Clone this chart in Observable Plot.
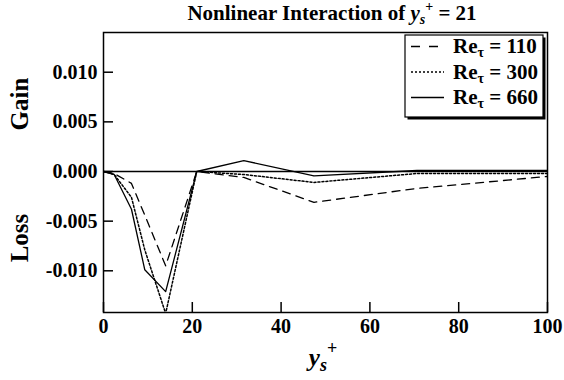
<!DOCTYPE html>
<html>
<head>
<meta charset="utf-8">
<script src="https://cdn.jsdelivr.net/npm/d3@7"></script>
<script src="https://cdn.jsdelivr.net/npm/@observablehq/plot@0.6"></script>
<style>
  body { margin: 0; background: #fff; }
  #chart svg { display: block; }
</style>
</head>
<body>
<div id="chart"></div>
<script>
// Wall-normal positions y+ at which the interaction is sampled
const yPlus = [0, 2.4, 6.3, 9.3, 14, 21, 31.6, 47.4, 70.6, 100];

// Net gain (+) / loss (-) for each friction Reynolds number
const gain110 = [0, -0.0002, -0.0012, -0.0044, -0.0095, 0, -0.0006, -0.0031, -0.0017, -0.0005];
const gain300 = [0, -0.0003, -0.0026, -0.0079, -0.0143, 0, -0.0003, -0.0011, -0.0002, -0.0002];
const gain660 = [0, -0.0003, -0.0038, -0.0099, -0.0121, 0, 0.0011, -0.00045, 0.0001, 0.0001];

const reTau = ["110", "300", "660"];
const dashes = ["8,6", "2,2", null];
const widths = [1.3, 1.5, 1.3];

const xTicks = [0, 20, 40, 60, 80, 100];
const yTicks = [-0.010, -0.005, 0, 0.005, 0.010];

const seriesValues = [gain110, gain300, gain660];
const rows = seriesValues.flatMap((vals, i) =>
  vals.map((v, j) => ({re: reTau[i], y: yPlus[j], g: v}))
);

const font = "'Liberation Serif', 'Times New Roman', Times, serif";
const W = 564, H = 380;
const mL = 103, mR = 17, mT = 32, mB = 68;

const lines = reTau.map((re, i) =>
  Plot.line(rows.filter(d => d.re === re), {
    x: "y", y: "g",
    stroke: "black", strokeWidth: widths[i],
    strokeDasharray: dashes[i],
    clip: true
  })
);

const chart = Plot.plot({
  width: W, height: H,
  marginLeft: mL, marginRight: mR, marginTop: mT, marginBottom: mB,
  style: {fontFamily: font, fontSize: "20px", fontWeight: "bold", color: "black", background: "white"},
  x: {domain: [0, 100], label: null},
  y: {domain: [-0.0142, 0.014], label: null},
  marks: [
    Plot.ruleY([0], {stroke: "black", strokeWidth: 1.5}),
    ...lines,
    Plot.tickX(xTicks, {x: d => d, insetTop: H - mT - mB - 10, stroke: "black", strokeWidth: 1.5}),
    Plot.tickY(yTicks, {y: d => d, insetRight: W - mL - mR - 10, stroke: "black", strokeWidth: 1.5}),
    Plot.axisX(xTicks, {tickSize: 0, tickPadding: 6, label: null, tickFormat: d => String(d)}),
    Plot.axisY(yTicks, {tickSize: 0, tickPadding: 6, label: null, tickFormat: d => d.toFixed(3)}),
    Plot.frame({stroke: "black", strokeWidth: 1.5})
  ]
});

document.getElementById("chart").append(chart);

const svg = d3.select(chart);
const txt = (x, y, size, anchor) => svg.append("text")
  .attr("x", x).attr("y", y)
  .attr("font-family", font).attr("font-weight", "bold")
  .attr("font-size", size).attr("text-anchor", anchor || "start")
  .attr("fill", "black");

// Title
const title = txt(332, 20, 21, "middle");
title.append("tspan").text("Nonlinear Interaction of ");
title.append("tspan").attr("font-style", "italic").text("y");
title.append("tspan").attr("font-style", "italic").attr("font-size", 14).attr("dy", 4).text("s");
title.append("tspan").attr("font-size", 14).attr("dy", -13).text("+");
title.append("tspan").attr("dy", 9).text(" = 21");

// x-axis label
const xl = txt(323, 366, 25, "middle");
xl.append("tspan").attr("font-style", "italic").text("y");
xl.append("tspan").attr("font-style", "italic").attr("font-size", 18).attr("dy", 5).text("s");
xl.append("tspan").attr("font-size", 18).attr("dy", -17).text("+");

// Gain / Loss side labels
txt(0, 0, 25, "middle").attr("transform", "translate(28,104) rotate(-90)").text("Gain");
txt(0, 0, 25, "middle").attr("transform", "translate(28,238) rotate(-90)").text("Loss");

// Legend box with drop shadow
const lx = 405, ly = 35, lw = 138, lh = 82;
svg.append("rect").attr("x", lx + 2.5).attr("y", ly + 2.5).attr("width", lw).attr("height", lh)
  .attr("fill", "black");
svg.append("rect").attr("x", lx).attr("y", ly).attr("width", lw).attr("height", lh)
  .attr("fill", "white").attr("stroke", "black").attr("stroke-width", 1.2);

const legendDash = ["9,9", "2,2", null];
reTau.forEach((re, i) => {
  const base = 53 + i * 25.5;
  svg.append("line")
    .attr("x1", 411).attr("x2", 444)
    .attr("y1", base - 6.5).attr("y2", base - 6.5)
    .attr("stroke", "black").attr("stroke-width", widths[i])
    .attr("stroke-dasharray", legendDash[i]);
  const t = txt(453, base, 21, "start");
  t.append("tspan").text("Re");
  t.append("tspan").attr("font-size", 14).attr("dy", 4).text("τ");
  t.append("tspan").attr("dy", -4).text(" = " + re);
});
</script>
</body>
</html>
